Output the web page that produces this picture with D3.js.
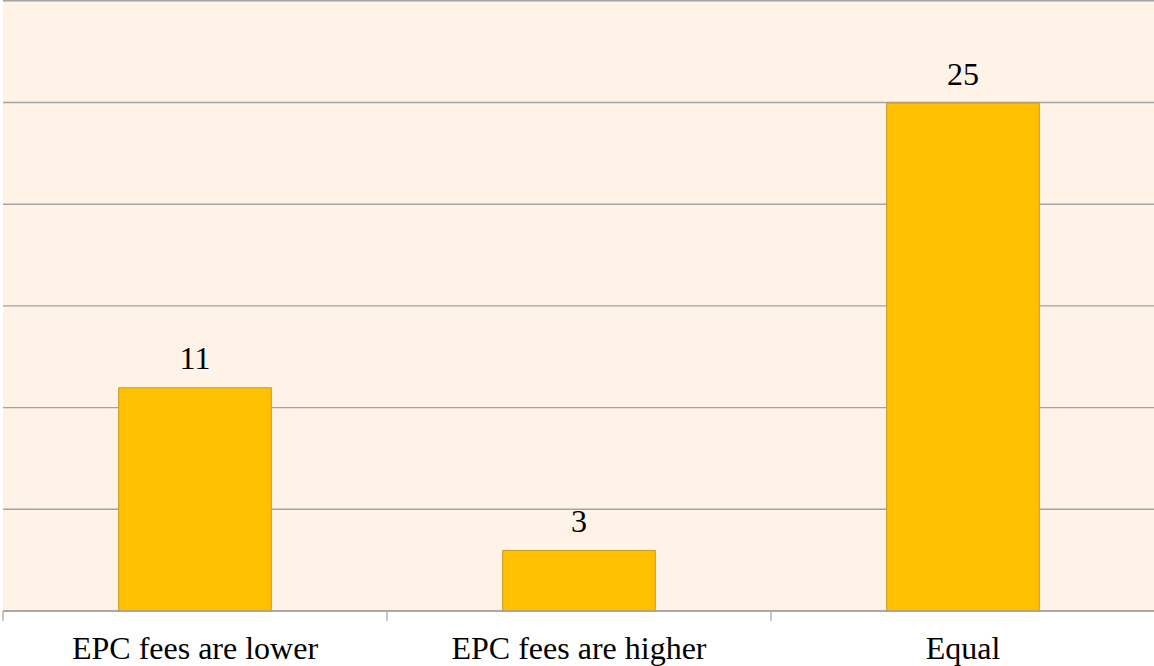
<!DOCTYPE html>
<html><head><meta charset="utf-8">
<script src="https://cdn.jsdelivr.net/npm/d3@7"></script>
<style>body{margin:0;background:#fff}svg{display:block}
text{font-family:"Liberation Serif","Times New Roman",Tinos,"DejaVu Serif",serif;}
</style>
</head><body><svg id="c" width="1154" height="666"></svg>
<script>
const categories = ["EPC fees are lower", "EPC fees are higher", "Equal"];
const values = [11, 3, 25];
const yTicks = [0, 5, 10, 15, 20, 25, 30];

const m = {left: 3, right: 1155, top: 0.8, bottom: 611};
const svg = d3.select("#c");
const x = d3.scaleBand().domain(categories).range([m.left, m.right]).paddingInner(0.6).paddingOuter(0.3);
const y = d3.scaleLinear().domain([0, 30]).range([m.bottom, m.top]);

svg.append("rect").attr("x", m.left).attr("y", 0).attr("width", m.right - m.left).attr("height", m.bottom)
  .attr("fill", "#FFF2E7");

svg.append("g").selectAll("line").data(yTicks).join("line")
  .attr("x1", m.left).attr("x2", m.right)
  .attr("y1", d => y(d)).attr("y2", d => y(d))
  .attr("stroke", "#a3a3a3").attr("stroke-width", 1.4);

svg.append("g").selectAll("rect").data(values).join("rect")
  .attr("x", (d, i) => x(categories[i]) + 0.5)
  .attr("y", d => y(d) + 0.5)
  .attr("width", x.bandwidth() - 1)
  .attr("height", d => y(0) - y(d) - 0.5)
  .attr("fill", "#FFC000").attr("stroke", "#C89A22").attr("stroke-width", 1);

const step = x.step();
const tickXs = d3.range(categories.length + 1).map(i => m.left + i * step);
svg.append("g").selectAll("line").data(tickXs).join("line")
  .attr("x1", d => d).attr("x2", d => d)
  .attr("y1", m.bottom).attr("y2", m.bottom + 10)
  .attr("stroke", "#a3a3a3").attr("stroke-width", 1.2);

svg.append("line").attr("x1", m.left).attr("x2", m.right).attr("y1", m.bottom).attr("y2", m.bottom)
  .attr("stroke", "#a3a3a3").attr("stroke-width", 1.4);

svg.append("g").selectAll("text").data(categories).join("text")
  .attr("x", d => x(d) + x.bandwidth() / 2).attr("y", 659)
  .attr("text-anchor", "middle").attr("font-size", 32).attr("fill", "#000")
  .text(d => d);

svg.append("g").selectAll("text").data(values).join("text")
  .attr("x", (d, i) => x(categories[i]) + x.bandwidth() / 2).attr("y", d => y(d) - 18)
  .attr("text-anchor", "middle").attr("font-size", 32).attr("fill", "#000")
  .text(d => d);
</script></body></html>
